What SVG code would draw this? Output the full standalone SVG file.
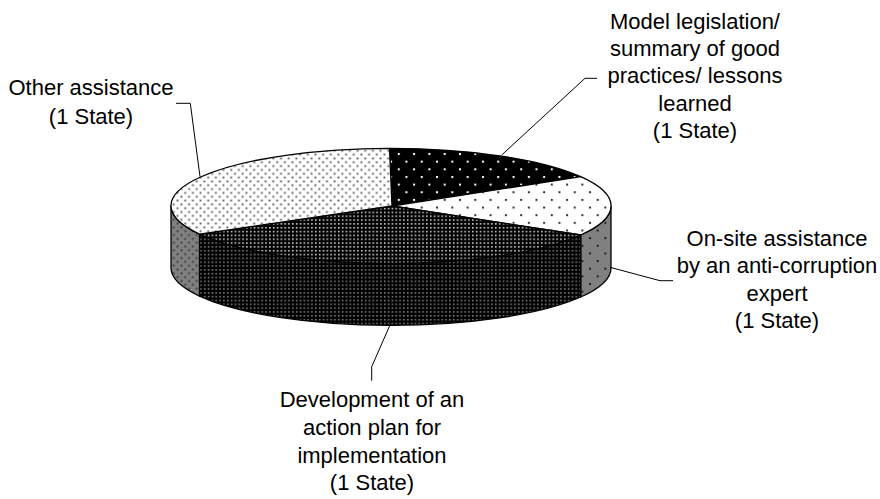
<svg xmlns="http://www.w3.org/2000/svg" width="880" height="499" viewBox="0 0 880 499">
<style>
  .lbl { font-family: "Liberation Sans", Arial, sans-serif; font-size: 22px; fill: #000; text-anchor: middle; }
  .edge { stroke: #000; stroke-width: 1.3; stroke-linejoin: round; }
  .lead { fill: none; stroke: #000; stroke-width: 1; }
</style>
<defs>
  <pattern id="pSparseW" patternUnits="userSpaceOnUse" width="15.3" height="15.3">
    <rect width="15.3" height="15.3" fill="#000"/>
    <rect x="0" y="0" width="2" height="2" fill="#fff"/>
    <rect x="7.65" y="7.65" width="2" height="2" fill="#fff"/>
  </pattern>
  <pattern id="pSparseB" patternUnits="userSpaceOnUse" width="15.3" height="15.3">
    <rect width="15.3" height="15.3" fill="#fff"/>
    <rect x="0" y="0" width="2" height="2" fill="#333"/>
    <rect x="7.65" y="7.65" width="2" height="2" fill="#333"/>
  </pattern>
  <pattern id="pSparseG" patternUnits="userSpaceOnUse" width="15.3" height="15.3">
    <rect width="15.3" height="15.3" fill="#808080"/>
    <rect x="0" y="0" width="2" height="2" fill="#222"/>
    <rect x="7.65" y="7.65" width="2" height="2" fill="#222"/>
  </pattern>
  <pattern id="pDenseW" patternUnits="userSpaceOnUse" width="3.83" height="3.83">
    <rect width="3.83" height="3.83" fill="#000"/>
    <rect x="1" y="1" width="1.5" height="1.5" fill="#e8e8e8"/>
  </pattern>
  <pattern id="pDenseFront" patternUnits="userSpaceOnUse" width="3.83" height="3.83">
    <rect width="3.83" height="3.83" fill="#000"/>
    <rect x="1" y="1" width="1.5" height="1.5" fill="#8a8a8a"/>
  </pattern>
  <pattern id="pDenseLight" patternUnits="userSpaceOnUse" width="7.66" height="7.66">
    <rect width="7.66" height="7.66" fill="#fff"/>
    <rect x="0.5" y="0.5" width="1.8" height="1.8" fill="#555"/>
    <rect x="4.33" y="4.33" width="1.8" height="1.8" fill="#555"/>
  </pattern>
  <pattern id="pDenseGray" patternUnits="userSpaceOnUse" width="7.66" height="7.66">
    <rect width="7.66" height="7.66" fill="#808080"/>
    <rect x="0.5" y="0.5" width="1.8" height="1.8" fill="#333"/>
    <rect x="4.33" y="4.33" width="1.8" height="1.8" fill="#333"/>
  </pattern>
</defs>

<g id="slice-model">
  <path class="edge" fill="url(#pSparseW)" d="M392,206 L389.5,148.3 A220,57.5 0 0 1 580.7,176.7 Z"/>
</g>
<g id="slice-onsite">
  <path class="edge" fill="url(#pSparseG)" d="M580.7,235 A220,57.5 0 0 0 611,205.8 L611,267.8 A220,57.5 0 0 1 580.7,297 Z"/>
  <path class="edge" fill="url(#pSparseB)" d="M392,206 L580.7,176.7 A220,57.5 0 0 1 580.7,235 Z"/>
</g>
<g id="slice-development">
  <path class="edge" fill="url(#pDenseFront)" d="M199.5,234.1 A220,57.5 0 0 0 580.7,235 L580.7,297 A220,57.5 0 0 1 199.5,296.1 Z"/>
  <path class="edge" fill="url(#pDenseW)" d="M392,206 L580.7,235 A220,57.5 0 0 1 199.5,234.1 Z"/>
</g>
<g id="slice-other">
  <path class="edge" fill="url(#pDenseGray)" d="M171,205.8 A220,57.5 0 0 0 199.5,234.1 L199.5,296.1 A220,57.5 0 0 1 171,267.8 Z"/>
  <path class="edge" fill="url(#pDenseLight)" d="M392,206 L199.5,234.1 A220,57.5 0 0 1 389.5,148.3 Z"/>
</g>

<g id="connectors">
  <path class="lead" d="M176,103.3 H190.3 L200,176.7"/>
  <path class="lead" d="M501.7,155 L585,78.3 H597"/>
  <path class="lead" d="M610,267.3 L660,280.7 H673"/>
  <path class="lead" d="M390,325 L371.7,366.7 V380.7"/>
</g>

<g id="label-other">
  <text class="lbl" x="91" y="95">Other assistance</text>
  <text class="lbl" x="91" y="124">(1 State)</text>
</g>
<g id="label-model">
  <text class="lbl" x="695" y="29">Model legislation/</text>
  <text class="lbl" x="695" y="56">summary of good</text>
  <text class="lbl" x="695" y="83">practices/ lessons</text>
  <text class="lbl" x="695" y="111">learned</text>
  <text class="lbl" x="695" y="138">(1 State)</text>
</g>
<g id="label-onsite">
  <text class="lbl" x="777" y="246">On-site assistance</text>
  <text class="lbl" x="777" y="273">by an anti-corruption</text>
  <text class="lbl" x="777" y="301">expert</text>
  <text class="lbl" x="777" y="328">(1 State)</text>
</g>
<g id="label-development">
  <text class="lbl" x="372" y="407">Development of an</text>
  <text class="lbl" x="372" y="435">action plan for</text>
  <text class="lbl" x="372" y="463">implementation</text>
  <text class="lbl" x="372" y="490">(1 State)</text>
</g>
</svg>
